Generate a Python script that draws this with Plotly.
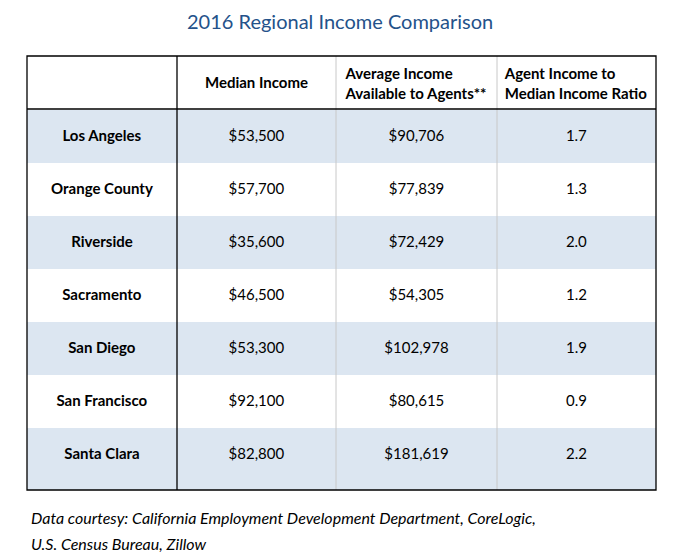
import plotly.graph_objects as go

# ---- data ----
regions = ["Los Angeles", "Orange County", "Riverside", "Sacramento",
           "San Diego", "San Francisco", "Santa Clara"]
median_income = [53500, 57700, 35600, 46500, 53300, 92100, 82800]
avg_agent_income = [90706, 77839, 72429, 54305, 102978, 80615, 181619]
income_ratio = [1.7, 1.3, 2.0, 1.2, 1.9, 0.9, 2.2]
headers = ["", "Median Income", "Average Income<br>Available to Agents**",
           "Agent Income to<br>Median Income Ratio"]
title_text = "2016 Regional Income Comparison"
footer_lines = ["Data courtesy: California Employment Development Department, CoreLogic,",
                "U.S. Census Bureau, Zillow"]

# page body adds an 8px margin; work in screen pixels and convert
OFF = 8
W, H = 669, 551
BLUE = "#DCE6F1"
CLEAR = "rgba(0,0,0,0)"
FONT = "Lato"
TXT = 15
SHIFT = 9   # table text is top-aligned; a text layer lowered by this centres it


def px_x(v):
    return (v - OFF) / W


def px_y(v):
    return 1 - (v - OFF) / H


n = len(regions)
row_fills = [BLUE if i % 2 == 0 else "white" for i in range(n)]

col_region = ["<b>%s</b>" % r for r in regions]
col_median = ["<span>${:,}</span>".format(v) for v in median_income]
col_avg = ["<span>${:,}</span>".format(v) for v in avg_agent_income]
col_ratio = ["<span>{:.1f}</span>".format(v) for v in income_ratio]

# two-line header labels sit in the fill layer, single-line ones in the lowered text layer
hdr_two = ["<b>%s</b>" % h if "<br>" in h else "" for h in headers]
hdr_one = ["<b>%s</b>" % h if "<br>" not in h and h else "" for h in headers]

L, R, T, B = 27, 656, 56, 490
HEADER_H, ROW_H = 53, 53
COLW = [150, 159, 161, 159]

fill_layer = go.Table(
    domain=dict(x=[px_x(L), px_x(R)], y=[px_y(B), px_y(T)]),
    columnwidth=COLW,
    header=dict(values=hdr_two, fill_color="white", line=dict(width=0, color=CLEAR),
                align="center", height=HEADER_H,
                font=dict(family=FONT, size=TXT, color="black")),
    cells=dict(values=[[""] * n for _ in range(4)], fill_color=[row_fills] * 4,
               line=dict(width=0, color=CLEAR), height=ROW_H,
               font=dict(family=FONT, size=TXT, color="black")),
)

text_layer = go.Table(
    domain=dict(x=[px_x(L), px_x(R)], y=[px_y(B + SHIFT), px_y(T + SHIFT)]),
    columnwidth=COLW,
    header=dict(values=hdr_one, fill_color=CLEAR, line=dict(width=0, color=CLEAR),
                align="center", height=HEADER_H,
                font=dict(family=FONT, size=TXT, color="black")),
    cells=dict(values=[col_region, col_median, col_avg, col_ratio], fill_color=CLEAR,
               line=dict(width=0, color=CLEAR), align="center", height=ROW_H,
               font=dict(family=FONT, size=TXT, color="black")),
)

fig = go.Figure([fill_layer, text_layer])

shapes = []
# extension of last (taller) row background
shapes.append(dict(type="rect", xref="paper", yref="paper",
                   x0=px_x(L), x1=px_x(R), y0=px_y(B),
                   y1=px_y(T + HEADER_H + ROW_H * n),
                   fillcolor=BLUE, line=dict(width=0), layer="below"))
# light gray column separators
for xv in (336, 497):
    shapes.append(dict(type="line", xref="paper", yref="paper",
                       x0=px_x(xv), x1=px_x(xv), y0=px_y(T), y1=px_y(B),
                       line=dict(color="#C8C8C8", width=1)))
# black separator after first column
shapes.append(dict(type="line", xref="paper", yref="paper",
                   x0=px_x(177), x1=px_x(177), y0=px_y(T), y1=px_y(B),
                   line=dict(color="black", width=1.3)))
# header bottom line
shapes.append(dict(type="line", xref="paper", yref="paper",
                   x0=px_x(L), x1=px_x(R), y0=px_y(T + HEADER_H), y1=px_y(T + HEADER_H),
                   line=dict(color="black", width=1.3)))
# outer frame
shapes.append(dict(type="rect", xref="paper", yref="paper",
                   x0=px_x(L), x1=px_x(R), y0=px_y(B), y1=px_y(T),
                   line=dict(color="black", width=1.3), fillcolor=CLEAR))

annotations = [
    dict(text=title_text, xref="paper", yref="paper", x=px_x(340), y=px_y(8),
         xanchor="center", yanchor="top", showarrow=False, borderpad=0,
         font=dict(family=FONT, size=20, color="#24528A")),
]
for i, line in enumerate(footer_lines):
    annotations.append(dict(text="<i>%s</i>" % line, xref="paper", yref="paper",
                            x=px_x(29), y=px_y(517 + 26 * i), xanchor="left", yanchor="middle",
                            showarrow=False,
                            font=dict(family=FONT, size=16, color="black")))

fig.update_layout(
    width=W, height=H,
    margin=dict(l=0, r=0, t=0, b=0),
    paper_bgcolor="white", plot_bgcolor="white",
    shapes=shapes, annotations=annotations,
)

fig.write_html("out.html")
